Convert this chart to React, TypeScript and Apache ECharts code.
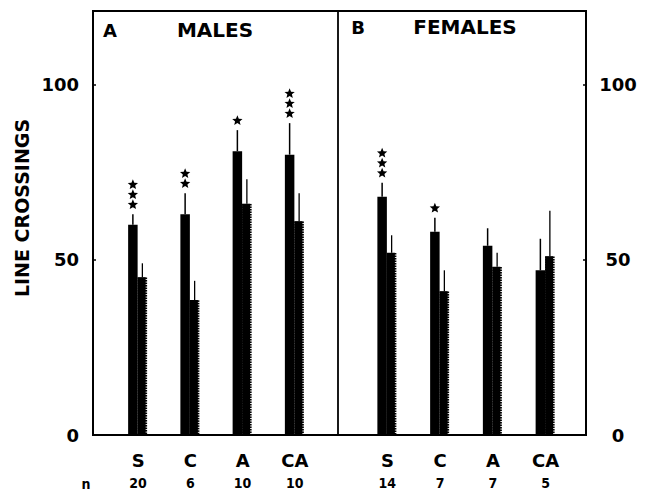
import React, { useEffect, useRef } from "react";
import * as echarts from "echarts";

const groups = ["S", "C", "A", "CA"];
const maleN = [20, 6, 10, 10];
const femaleN = [14, 7, 7, 5];

// top of dark bar, top of its error line, top of hatched bar, top of its error line
const maleDark = [60, 63, 81, 80];
const maleDarkErr = [63, 69, 87, 89];
const maleHatched = [45, 38.5, 66, 61];
const maleHatchedErr = [49, 44, 73, 69];
const maleStars = [3, 2, 1, 3];

const femaleDark = [68, 58, 54, 47];
const femaleDarkErr = [72, 62, 59, 56];
const femaleHatched = [52, 41, 48, 51];
const femaleHatchedErr = [57, 47, 52, 64];
const femaleStars = [3, 1, 0, 0];

const yTicks = [0, 50, 100];

const BOLD = "'DejaVu Sans', 'Liberation Sans', sans-serif";
const NARROW = "'Liberation Sans Narrow', 'DejaVu Sans Condensed', sans-serif";

function starPoints(cx: number, cy: number, R: number, r: number) {
  const pts: number[][] = [];
  for (let i = 0; i < 10; i++) {
    const ang = -Math.PI / 2 + (i * Math.PI) / 5;
    const rad = i % 2 === 0 ? R : r;
    pts.push([cx + rad * Math.cos(ang), cy + rad * Math.sin(ang)]);
  }
  return pts;
}

function renderItem(params: any, api: any) {
  const idx = api.value(0);
  const base = api.coord([idx, 0]);
  const cx = base[0];
  const y0 = base[1];
  const yD = api.coord([idx, api.value(1)])[1];
  const yDe = api.coord([idx, api.value(2)])[1];
  const yH = api.coord([idx, api.value(3)])[1];
  const yHe = api.coord([idx, api.value(4)])[1];
  const nStars = api.value(5);
  const children: any[] = [];
  const dx = cx - 10;
  const dw = 9.5;
  const hx = cx - 0.5;
  const hw = 9.5;
  children.push({
    type: "line",
    shape: { x1: dx + dw / 2, y1: yD, x2: dx + dw / 2, y2: yDe },
    style: { stroke: "#000", lineWidth: 1.5 },
  });
  children.push({
    type: "line",
    shape: { x1: hx + hw / 2, y1: yH, x2: hx + hw / 2, y2: yHe },
    style: { stroke: "#000", lineWidth: 1.3 },
  });
  children.push({
    type: "rect",
    shape: { x: dx, y: yD, width: dw, height: y0 - yD },
    style: { fill: "#000" },
  });
  // hatched bar: black body with comb-like right edge
  children.push({
    type: "rect",
    shape: { x: hx, y: yH, width: hw - 1.5, height: y0 - yH },
    style: { fill: "#000" },
  });
  for (let y = yH + 1; y < y0; y += 2.5) {
    children.push({
      type: "line",
      shape: { x1: hx, y1: y, x2: hx + hw, y2: y },
      style: { stroke: "#000", lineWidth: 1.6 },
    });
  }
  for (let k = 0; k < nStars; k++) {
    children.push({
      type: "polygon",
      shape: { points: starPoints(dx + dw / 2, yDe - 9.5 - k * 10, 5.4, 2.4) },
      style: { fill: "#000" },
    });
  }
  return { type: "group", children };
}

function buildData(d: number[], de: number[], h: number[], he: number[], s: number[]) {
  return groups.map((_, i) => [i, d[i], de[i], h[i], he[i], s[i]]);
}

const xLabel = (nArr: number[]) => ({
  margin: 14,
  formatter: (v: string, i: number) => `{a|${v}}\n{b|${nArr[i]}}`,
  rich: {
    a: { fontFamily: BOLD, fontWeight: "bold", fontSize: 18, color: "#000", lineHeight: 22 },
    b: { fontFamily: NARROW, fontWeight: "bold", fontSize: 14, color: "#000", lineHeight: 24 },
  },
});

const yLabelFmt = (v: number) => (yTicks.indexOf(v) >= 0 ? String(v) : "");

export default function App() {
  const ref = useRef<HTMLDivElement>(null);
  useEffect(() => {
    if (!ref.current) return;
    const chart = echarts.init(ref.current, null, { renderer: "svg" });
    chart.setOption({
      animation: false,
      backgroundColor: "#fff",
      grid: [
        { left: 112, top: 11, width: 209, height: 424 },
        { left: 361, top: 11, width: 211, height: 424 },
      ],
      xAxis: [
        {
          type: "category",
          gridIndex: 0,
          data: groups,
          axisLine: { show: false },
          axisTick: { show: false },
          axisLabel: xLabel(maleN),
        },
        {
          type: "category",
          gridIndex: 1,
          data: groups,
          axisLine: { show: false },
          axisTick: { show: false },
          axisLabel: xLabel(femaleN),
        },
      ],
      yAxis: [
        {
          type: "value",
          gridIndex: 0,
          position: "left",
          offset: 19,
          min: 0,
          max: 121,
          interval: 50,
          splitLine: { show: false },
          axisLine: { show: false },
          axisTick: { show: true, inside: true, length: 3, lineStyle: { color: "#000", width: 1.5 } },
          axisLabel: {
            formatter: yLabelFmt,
            margin: 14,
            color: "#000",
            fontFamily: BOLD,
            fontWeight: "bold",
            fontSize: 18,
          },
        },
        {
          type: "value",
          gridIndex: 1,
          position: "right",
          offset: 14,
          min: 0,
          max: 121,
          interval: 50,
          splitLine: { show: false },
          axisLine: { show: false },
          axisTick: { show: true, inside: true, length: 3, lineStyle: { color: "#000", width: 1.5 } },
          axisLabel: {
            formatter: yLabelFmt,
            margin: 32,
            align: "center",
            color: "#000",
            fontFamily: BOLD,
            fontWeight: "bold",
            fontSize: 18,
          },
        },
      ],
      series: [
        {
          type: "custom",
          name: "Males",
          xAxisIndex: 0,
          yAxisIndex: 0,
          renderItem,
          encode: { x: 0, y: 1 },
          data: buildData(maleDark, maleDarkErr, maleHatched, maleHatchedErr, maleStars),
        },
        {
          type: "custom",
          name: "Females",
          xAxisIndex: 1,
          yAxisIndex: 1,
          renderItem,
          encode: { x: 0, y: 1 },
          data: buildData(femaleDark, femaleDarkErr, femaleHatched, femaleHatchedErr, femaleStars),
        },
      ],
      graphic: [
        {
          type: "rect",
          shape: { x: 93, y: 11, width: 493, height: 424 },
          style: { fill: "none", stroke: "#000", lineWidth: 2 },
          z: 10,
        },
        {
          type: "line",
          shape: { x1: 338, y1: 11, x2: 338, y2: 435 },
          style: { stroke: "#000", lineWidth: 1.8 },
          z: 10,
        },
        {
          type: "text",
          x: 110,
          y: 30,
          style: { text: "A", fill: "#000", font: `bold 18px ${BOLD}`, textAlign: "center", textVerticalAlign: "middle" },
        },
        {
          type: "text",
          x: 215,
          y: 30,
          style: { text: "MALES", fill: "#000", font: `bold 20px ${BOLD}`, textAlign: "center", textVerticalAlign: "middle" },
        },
        {
          type: "text",
          x: 358,
          y: 27,
          style: { text: "B", fill: "#000", font: `bold 18px ${BOLD}`, textAlign: "center", textVerticalAlign: "middle" },
        },
        {
          type: "text",
          x: 465,
          y: 27,
          style: { text: "FEMALES", fill: "#000", font: `bold 20px ${BOLD}`, textAlign: "center", textVerticalAlign: "middle" },
        },
        {
          type: "text",
          x: 22,
          y: 208,
          rotation: Math.PI / 2,
          style: { text: "LINE CROSSINGS", fill: "#000", font: `bold 19px ${BOLD}`, textAlign: "center", textVerticalAlign: "middle" },
        },
        {
          type: "text",
          x: 86,
          y: 484,
          style: { text: "n", fill: "#000", font: `bold 14px ${NARROW}`, textAlign: "center", textVerticalAlign: "middle" },
        },
      ],
    });
    return () => chart.dispose();
  }, []);
  return (
    <div
      ref={ref}
      style={{ position: "fixed", left: 0, top: 0, width: 649, height: 502, background: "#fff" }}
    />
  );
}
